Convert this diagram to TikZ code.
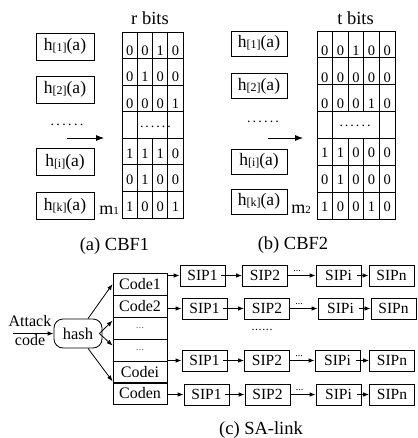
\documentclass[tikz,border=0pt]{standalone}
\usepackage{fontspec}
\setmainfont{Liberation Serif}
\usetikzlibrary{arrows.meta}
\newcommand{\fsz}[1]{\fontsize{#1}{#1}\selectfont}
\newcommand{\hlab}[1]{h\raisebox{-0.8pt}{\fsz{12}[#1]}(a)}
\newcommand{\mlab}[1]{m\raisebox{-0.3pt}{\fsz{11}#1}}
\newcommand{\sixdots}[1]{.\kern#1.\kern#1.\kern#1.\kern#1.\kern#1.}
\begin{document}
\begin{tikzpicture}[x=1pt,y=-1pt,line width=0.8pt,
  box/.style={draw,inner sep=0pt,line width=0.8pt},
  hbox/.style={box,minimum width=58pt,minimum height=27pt,font=\fsz{17.5}},
  hboxb/.style={box,minimum width=56pt,minimum height=25pt,font=\fsz{17.5}},
  digit/.style={inner sep=0pt,font=\fsz{14.5}},
  codebox/.style={box,minimum width=54pt,minimum height=22pt,font=\fsz{16}},
  sip/.style={box,minimum width=45pt,minimum height=21pt,font=\fsz{15.5}},
  arr/.style={-{Latex[length=6pt,width=4.5pt]}},
  bigarr/.style={-{Latex[length=8pt,width=6pt]}},
  captext/.style={inner sep=0pt,anchor=base,font=\fsz{18.5}},
  plain/.style={inner sep=0pt,font=\fsz{16}}]
\useasboundingbox[fill=white] (0,0) rectangle (417,438);

% ---------------- (a) CBF1 ----------------
\node[captext] (rbits) at (150,25) {r bits};
\draw (122,32) rectangle (183,218);
\foreach \yy in {58.57,85.14,111.71,138.29,164.86,191.43} \draw (122,\yy) -- (183,\yy);
\draw (137.25,32) -- (137.25,218);
\draw (167.75,32) -- (167.75,218);
\draw (152.5,32) -- (152.5,111.71);
\draw (152.5,138.29) -- (152.5,218);
\foreach \r/\off/\vals in {1/5/{0,0,1,0},2/5/{0,1,0,0},3/5/{0,0,0,1},5/2/{1,1,1,0},6/2/{0,1,0,0},7/2/{1,0,0,1}}
  \foreach \v [count=\c] in \vals
    \node[digit] (ad\r\c) at ({122+15.25*(\c-0.5)},{32+26.571*(\r-0.5)+\off}) {\v};
\node[plain,font=\fsz{14}] (adots) at (155.5,127) {\sixdots{2pt}};

\node[hbox] (ah1) at (65,46.5) {\hlab{1}};
\node[hbox] (ah2) at (65,89.5) {\hlab{2}};
\node[plain,font=\fsz{14}] (ahdots) at (67,125) {\sixdots{2.4pt}};
\node[hbox] (ahi) at (65,162) {\hlab{i}};
\node[hbox] (ahk) at (65,206) {\hlab{k}};
\coordinate (aa1) at (67,138);
\coordinate (aa2) at (104,138);
\draw[bigarr] (aa1) -- (aa2);
\node[plain,anchor=base west,font=\fsz{18}] (am) at (99,214) {\mlab{1}};
\node[captext] (capa) at (114.5,250) {(a) CBF1};

% ---------------- (b) CBF2 ----------------
\node[captext] (tbits) at (355.5,25) {t bits};
\draw (317,31) rectangle (395,219);
\foreach \yy in {57.86,84.71,111.57,138.43,165.29,192.14} \draw (317,\yy) -- (395,\yy);
\draw (332.6,31) -- (332.6,219);
\draw (379.4,31) -- (379.4,219);
\foreach \xx in {348.2,363.8} {
  \draw (\xx,31) -- (\xx,111.57);
  \draw (\xx,138.43) -- (\xx,219);
}
\foreach \r/\off/\vals in {1/6/{0,0,1,0,0},2/6/{0,0,0,0,0},3/6/{0,0,0,1,0},5/1/{1,1,0,0,0},6/1/{0,1,0,0,0},7/1/{1,0,0,1,0}}
  \foreach \v [count=\c] in \vals
    \node[digit] (bd\r\c) at ({317+15.6*(\c-0.5)},{31+26.857*(\r-0.5)+\off}) {\v};
\node[plain,font=\fsz{14}] (bdots) at (355,126) {\sixdots{2pt}};

\node[hboxb] (bh1) at (259,43.5) {\hlab{1}};
\node[hboxb] (bh2) at (259,86) {\hlab{2}};
\node[plain,font=\fsz{14}] (bhdots) at (263,122) {\sixdots{2.2pt}};
\node[hboxb] (bhi) at (259,161.5) {\hlab{i}};
\node[hboxb] (bhk) at (259,201.5) {\hlab{k}};
\coordinate (ba1) at (268,138);
\coordinate (ba2) at (303,138);
\draw[bigarr] (ba1) -- (ba2);
\node[plain,anchor=base west,font=\fsz{18}] (bm) at (291,213) {\mlab{2}};
\node[captext] (capb) at (293,249) {(b) CBF2};

% ---------------- (c) SA-link ----------------
\node[plain] (attack) at (30,321) {Attack};
\node[plain] (code) at (30,340) {code};
\node[box,minimum width=48pt,minimum height=29pt,rounded corners=9pt,font=\fsz{16.5}] (hash) at (78,333.5) {hash};
\coordinate (in) at (13,333.5);
\draw[arr] (in) -- (hash.west);

\node[codebox] (c1) at (140,284) {Code1};
\node[codebox] (c2) at (140,306) {Code2};
\node[codebox,font=\fsz{11},text=black!55] (c3) at (140,328) {...};
\node[codebox,font=\fsz{11},text=black!55] (c4) at (140,350) {...};
\node[codebox] (c5) at (140,372) {Codei};
\node[codebox] (c6) at (140,393.5) {Coden};

\draw[arr] ([xshift=10pt]hash.north) -- (c1.west);
\draw[arr] ([xshift=10pt]hash.south) -- ([yshift=2pt]c5.south west);
\draw[arr] ([xshift=-3pt]hash.east) -- ([yshift=-4pt]c3.north west);
\draw[arr] ([xshift=-3pt]hash.east) -- ([yshift=-7pt]c4.north west);

% SIP rows
\foreach \row/\src/\yy/\xa/\xb/\xc/\xd in {1/c1/275.5/202.5/265/338.5/391.5, 2/c2/308.5/204.5/267/340.5/393.5, 3/c5/360.5/204.5/267/337.5/392, 4/c6/394.5/206.5/267.5/338.5/392} {
  \node[sip] (s\row a) at (\xa,\yy) {SIP1};
  \node[sip] (s\row b) at (\xb,\yy) {SIP2};
  \node[sip] (s\row c) at (\xc,\yy) {SIPi};
  \node[sip] (s\row d) at (\xd,\yy) {SIPn};
  \draw[arr] (\src.east |- s\row a.west) -- (s\row a.west);
  \draw[arr,shorten <=-4pt] (s\row a.east) -- (s\row b.west);
  \draw[arr] (s\row b.east) -- (s\row c.west);
  \draw[arr,shorten <=-4pt] (s\row c.east) -- (s\row d.west);
  \node[inner sep=0pt,font=\fsz{10},anchor=base west] (sd\row) at ([xshift=5pt,yshift=4pt]s\row b.east) {...};
}
\node[plain,font=\fsz{12}] (middots) at (262,330) {\sixdots{0.6pt}};

\node[captext] (capc) at (261,434) {(c) SA-link};
\end{tikzpicture}
\end{document}
